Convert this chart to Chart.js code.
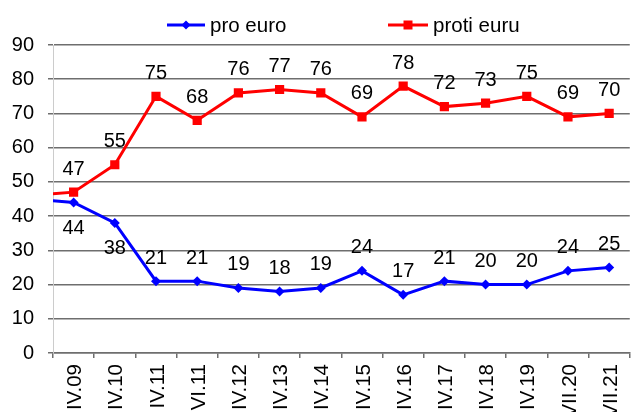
<!DOCTYPE html>
<html>
<head>
<meta charset="utf-8">
<script src="https://cdn.jsdelivr.net/npm/chart.js@4/dist/chart.umd.min.js"></script>
<style>
html,body{margin:0;padding:0;background:#fff;overflow:hidden;width:638px;height:412px;}
canvas{display:block;}
</style>
</head>
<body>
<canvas id="c" width="640" height="440"></canvas>
<script>
// first category is an earlier survey that falls just outside the visible axis
const categories = ['', 'IV.09','IV.10','IV.11','VI.11','IV.12','IV.13','IV.14','IV.15','IV.16','IV.17','IV.18','IV.19','VII.20','VII.21'];
const proEuro   = [45, 44, 38, 21, 21, 19, 18, 19, 24, 17, 21, 20, 20, 24, 25];
const protiEuru = [46, 47, 55, 75, 68, 76, 77, 76, 69, 78, 72, 73, 75, 69, 70];
const seriesNames = ['pro euro', 'proti euru'];
const yTicks = [0,10,20,30,40,50,60,70,80,90];

const FONT = "'Liberation Sans', Arial, sans-serif";
const BLUE = '#0000ff', RED = '#ff0000';
const TEXT = '#000';

const valueLabels = {
  id: 'valueLabels',
  afterDatasetsDraw(chart) {
    const ctx = chart.ctx;
    ctx.save();
    ctx.font = '20px ' + FONT;
    ctx.fillStyle = TEXT;
    ctx.textAlign = 'center';
    ctx.textBaseline = 'middle';
    chart.data.datasets.forEach((ds, di) => {
      const meta = chart.getDatasetMeta(di);
      meta.data.forEach((pt, i) => {
        if (i === 0) return;
        const below = (di === 0 && (i === 1 || i === 2));
        const y = below ? pt.y + 26 : pt.y - 23;
        ctx.fillText(String(ds.data[i]), pt.x, y);
      });
    });
    ctx.restore();
  }
};

const customLegend = {
  id: 'customLegend',
  afterDraw(chart) {
    const ctx = chart.ctx;
    ctx.save();
    const items = [
      {x1: 167, x2: 205, color: BLUE, shape: 'diamond', text: seriesNames[0]},
      {x1: 388, x2: 428, color: RED, shape: 'square', text: seriesNames[1]}
    ];
    const y = 25;
    items.forEach(it => {
      ctx.strokeStyle = it.color;
      ctx.fillStyle = it.color;
      ctx.lineWidth = 3;
      ctx.beginPath();
      ctx.moveTo(it.x1, y);
      ctx.lineTo(it.x2, y);
      ctx.stroke();
      const cx = (it.x1 + it.x2) / 2;
      ctx.beginPath();
      if (it.shape === 'diamond') {
        ctx.moveTo(cx, y - 4.5); ctx.lineTo(cx + 4.5, y); ctx.lineTo(cx, y + 4.5); ctx.lineTo(cx - 4.5, y);
        ctx.closePath();
      } else {
        ctx.rect(cx - 4.5, y - 4.5, 9, 9);
      }
      ctx.fill();
      ctx.fillStyle = TEXT;
      ctx.font = '20.5px ' + FONT;
      ctx.textAlign = 'left';
      ctx.textBaseline = 'middle';
      ctx.fillText(it.text, it.x2 + 5, y + 1);
    });
    ctx.restore();
  }
};

const bgPlugin = {
  id: 'bg',
  beforeDraw(chart) {
    const ctx = chart.ctx;
    ctx.save();
    ctx.fillStyle = '#fff';
    ctx.fillRect(0, 0, chart.width, chart.height);
    ctx.restore();
  }
};

new Chart(document.getElementById('c'), {
  type: 'line',
  data: {
    labels: categories,
    datasets: [
      {
        label: seriesNames[0],
        data: proEuro,
        borderColor: BLUE,
        backgroundColor: BLUE,
        borderWidth: 3,
        pointStyle: 'rectRot',
        pointRadius: ctx => ctx.dataIndex === 0 ? 0 : 5,
        pointBorderWidth: 0,
        tension: 0,
        clip: 0
      },
      {
        label: seriesNames[1],
        data: protiEuru,
        borderColor: RED,
        backgroundColor: RED,
        borderWidth: 3,
        pointStyle: 'rect',
        pointRadius: ctx => ctx.dataIndex === 0 ? 0 : 6.5,
        pointBorderWidth: 0,
        tension: 0,
        clip: 0
      }
    ]
  },
  options: {
    responsive: false,
    animation: false,
    devicePixelRatio: 1,
    layout: { padding: { top: 45, left: 0, right: 0, bottom: 0 } },
    plugins: { legend: { display: false }, tooltip: { enabled: false } },
    scales: {
      x: {
        type: 'category',
        min: 1,
        offset: true,
        afterFit(scale) { scale.height = 87; },
        grid: { display: true, drawOnChartArea: false, drawTicks: true, tickLength: 5, offset: true, color: '#6e6e6e', lineWidth: 1.5 },
        border: { display: true, color: '#6e6e6e', width: 1.5 },
        ticks: {
          autoSkip: false, minRotation: 90, maxRotation: 90, padding: 6, labelOffset: 2,
          color: TEXT, font: { family: FONT, size: 20.5 }
        }
      },
      y: {
        min: 0, max: 90,
        afterFit(scale) { scale.width = 53; },
        afterBuildTicks(scale) { scale.ticks = yTicks.map(v => ({ value: v })); },
        grid: { color: '#6e6e6e', lineWidth: 1.5, tickLength: 5, drawTicks: true },
        border: { display: true, color: '#cccccc', width: 1 },
        ticks: { padding: 14, color: TEXT, font: { family: FONT, size: 20 } }
      }
    }
  },
  plugins: [bgPlugin, valueLabels, customLegend]
});
</script>
</body>
</html>
